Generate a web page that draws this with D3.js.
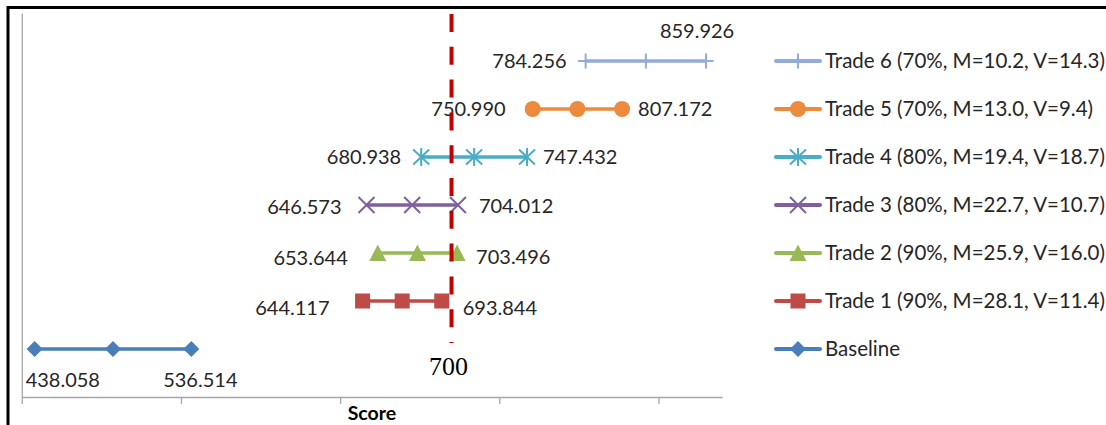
<!DOCTYPE html>
<html>
<head>
<meta charset="utf-8">
<script src="https://cdn.jsdelivr.net/npm/d3@7"></script>
<style>
  html, body { margin: 0; padding: 0; background: #fff; }
  svg { display: block; }
</style>
</head>
<body>
<svg id="chart" width="1106" height="425"></svg>
<script>
// Score ranges per scenario: low end, midpoint and high end
const seriesNames = [
  "Baseline",
  "Trade 1 (90%, M=28.1, V=11.4)",
  "Trade 2 (90%, M=25.9, V=16.0)",
  "Trade 3 (80%, M=22.7, V=10.7)",
  "Trade 4 (80%, M=19.4, V=18.7)",
  "Trade 5 (70%, M=13.0, V=9.4)",
  "Trade 6 (70%, M=10.2, V=14.3)"
];
const rowLevels  = [1, 2, 3, 4, 5, 6, 7];
const lowScores  = [438.058, 644.117, 653.644, 646.573, 680.938, 750.990, 784.256];
const midScores  = [487.3, 669.0, 678.6, 675.3, 714.2, 779.1, 822.1];
const highScores = [536.514, 693.844, 703.496, 704.012, 747.432, 807.172, 859.926];
const lowLabels  = ["438.058", "644.117", "653.644", "646.573", "680.938", "750.990", "784.256"];
const highLabels = ["536.514", "693.844", "703.496", "704.012", "747.432", "807.172", "859.926"];
const thresholdScore = 700;
const thresholdLabel = "700";
const xDomain = [430, 870];
const yDomain = [0, 8];
const xTicks = [430, 530, 630, 730, 830];
const xTickLabels = ["", "", "", "", ""];
const axisTitle = "Score";

// Styling
const colors = ["#4A7EBB", "#BE4B48", "#98B954", "#7F609F", "#4BACC6", "#EC8B3D", "#92ABDA"];
const markerKinds = ["diamond", "square", "triangle", "times", "asterisk", "circle", "plus"];
const labelPlacement = [
  { low: { anchor: "start", dx: -9,  dy: 31 }, high: { anchor: "middle", dx: 9,  dy: 31 } },
  { low: { anchor: "end",   dx: -33, dy: 7 },  high: { anchor: "start",  dx: 21, dy: 7 } },
  { low: { anchor: "end",   dx: -30, dy: 5 },  high: { anchor: "start",  dx: 19, dy: 4 } },
  { low: { anchor: "end",   dx: -25, dy: 2 },  high: { anchor: "start",  dx: 21, dy: 1 } },
  { low: { anchor: "end",   dx: -20, dy: 0 },  high: { anchor: "start",  dx: 16, dy: 0 } },
  { low: { anchor: "end",   dx: -27, dy: 0 },  high: { anchor: "start",  dx: 16, dy: 0 } },
  { low: { anchor: "end",   dx: -19, dy: 0 },  high: { anchor: "middle", dx: -9, dy: -30 } }
];
const labelFont = "Lato, 'Open Sans', sans-serif";

const svg = d3.select("#chart");

// Chart frame
svg.append("rect")
  .attr("x", 8).attr("y", 7.5)
  .attr("width", 1200).attr("height", 500)
  .attr("fill", "none").attr("stroke", "#000").attr("stroke-width", 3);

const x = d3.scaleLinear().domain(xDomain).range([21.8, 722.1]);
const y = d3.scaleLinear().domain(yDomain).range([397, 13]);

// Axes
const xAxis = svg.append("g")
  .attr("transform", `translate(0,${y(yDomain[0])})`)
  .call(d3.axisBottom(x).tickValues(xTicks)
    .tickFormat((d, i) => xTickLabels[i])
    .tickSizeInner(7).tickSizeOuter(0));
const yAxis = svg.append("g")
  .attr("transform", `translate(${x(xDomain[0])},0)`)
  .call(d3.axisLeft(y).tickValues([]).tickSizeOuter(0));
[xAxis, yAxis].forEach(g => {
  g.selectAll(".domain, .tick line").attr("stroke", "#A6A6A6").attr("stroke-width", 1.3);
  g.selectAll("text").remove();
});

svg.append("text")
  .attr("x", (x.range()[0] + x.range()[1]) / 2)
  .attr("y", 413)
  .attr("dy", "0.35em")
  .attr("text-anchor", "middle")
  .attr("font-family", labelFont)
  .attr("font-weight", "bold")
  .attr("font-size", 19.5)
  .attr("fill", "#000")
  .text(axisTitle);

// Marker shapes
function drawMarker(g, kind, color) {
  switch (kind) {
    case "diamond":
      g.append("path").attr("d", "M0,-8L8,0L0,8L-8,0Z").attr("fill", color);
      break;
    case "square":
      g.append("rect").attr("x", -7.5).attr("y", -7.5).attr("width", 15).attr("height", 15).attr("fill", color);
      break;
    case "triangle":
      g.append("path").attr("d", "M0,-8.5L8.5,8L-8.5,8Z").attr("fill", color);
      break;
    case "circle":
      g.append("circle").attr("r", 8).attr("fill", color);
      break;
    case "times":
      g.append("path").attr("d", "M-8,-8L8,8M-8,8L8,-8")
        .attr("stroke", color).attr("stroke-width", 2).attr("fill", "none");
      break;
    case "asterisk":
      g.append("path").attr("d", "M-8,-7.5L8,7.5M-8,7.5L8,-7.5M0,-9V9")
        .attr("stroke", color).attr("stroke-width", 2).attr("fill", "none");
      break;
    case "plus":
      g.append("path").attr("d", "M0,-7.5V7.5M-7.5,0H7.5")
        .attr("stroke", color).attr("stroke-width", 2).attr("fill", "none");
      break;
  }
}

// Series
const line = d3.line().x(d => x(d[0])).y(d => y(d[1]));
seriesNames.forEach((name, i) => {
  const lvl = rowLevels[i];
  const pts = [[lowScores[i], lvl], [midScores[i], lvl], [highScores[i], lvl]];
  const g = svg.append("g");
  g.append("path").attr("d", line(pts))
    .attr("fill", "none").attr("stroke", colors[i]).attr("stroke-width", 3.5);
  pts.forEach(p => {
    drawMarker(g.append("g").attr("transform", `translate(${x(p[0])},${y(p[1])})`), markerKinds[i], colors[i]);
  });
  const lp = labelPlacement[i];
  [[lowScores[i], lowLabels[i], lp.low], [highScores[i], highLabels[i], lp.high]].forEach(([v, txt, pl]) => {
    g.append("text")
      .attr("x", x(v) + pl.dx)
      .attr("y", y(lvl) + pl.dy)
      .attr("dy", "0.35em")
      .attr("text-anchor", pl.anchor)
      .attr("font-family", labelFont)
      .attr("font-size", 20)
      .attr("fill", "#262626")
      .text(txt);
  });
});

// Threshold line at 700
svg.append("line")
  .attr("x1", x(thresholdScore)).attr("x2", x(thresholdScore))
  .attr("y1", 14).attr("y2", 343)
  .attr("stroke", "#C00000").attr("stroke-width", 4)
  .attr("stroke-dasharray", "18,14.8");
svg.append("text")
  .attr("x", x(thresholdScore) - 3)
  .attr("y", 366)
  .attr("dy", "0.35em")
  .attr("text-anchor", "middle")
  .attr("font-family", "'Liberation Serif', 'DejaVu Serif', serif")
  .attr("font-size", 26)
  .attr("fill", "#000")
  .text(thresholdLabel);

// Legend
const legend = svg.append("g");
seriesNames.forEach((name, i) => {
  const gy = y(rowLevels[i]);
  const row = legend.append("g").attr("transform", `translate(0,${gy})`);
  row.append("line").attr("x1", 776).attr("x2", 820).attr("y1", 0).attr("y2", 0)
    .attr("stroke", colors[i]).attr("stroke-width", 4).attr("stroke-linecap", "round");
  drawMarker(row.append("g").attr("transform", "translate(798,0)"), markerKinds[i], colors[i]);
  row.append("text")
    .attr("x", 825).attr("y", 0).attr("dy", "0.35em")
    .attr("font-family", labelFont)
    .attr("font-size", 20.5)
    .attr("fill", "#262626")
    .text(name);
});
</script>
</body>
</html>
